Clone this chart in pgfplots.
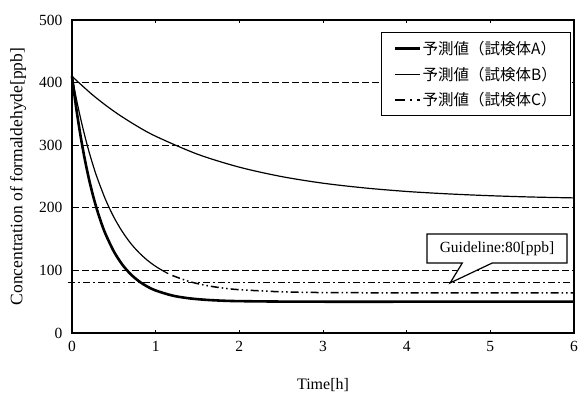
\documentclass[border=0pt]{standalone}
\usepackage{pgfplots}
\pgfplotsset{compat=1.18}
\usepackage{fontspec}
\setmainfont{Liberation Serif}
\newfontfamily\cjk{Noto Sans CJK JP}
\usetikzlibrary{shapes.callouts}
\begin{document}
\begin{tikzpicture}
\path[use as bounding box] (0pt,0pt) rectangle (580pt,398pt);
\begin{axis}[
  at={(72pt,65pt)}, anchor=south west,
  scale only axis, width=502pt, height=313pt,
  xmin=0, xmax=6, ymin=0, ymax=500,
  xtick={0,1,2,3,4,5,6}, ytick={0,100,200,300,400,500},
  axis line style={line width=1.6pt},
  tick align=inside, major tick length=3pt,
  tick style={black, line width=0.6pt},
  ymajorgrids=true,
  ytick style={draw=none},
  major grid style={black, line width=0.9pt, dash pattern=on 7pt off 3pt},
  /pgf/number format/assume math mode=true,
  tick label style={font=\fontsize{15.5}{16}\selectfont},
  yticklabel style={xshift=-6pt},
  xticklabel style={yshift=-5pt},
  xlabel={Time[h]}, ylabel={Concentration of formaldehyde[ppb]},
  every axis x label/.style={at={(axis description cs:0.5,-0.166)},anchor=center,font=\fontsize{16}{18}\selectfont},
  every axis y label/.style={at={(axis description cs:-0.1076,0.5)},rotate=90,anchor=center,font=\fontsize{17.5}{19}\selectfont},
  clip=false,
  legend cell align=left,
  legend style={at={(0.994,0.962)}, anchor=north east, draw=black, line width=1.2pt,
    font=\cjk\fontsize{15.5}{17}\selectfont, row sep=8pt, inner xsep=12pt, inner ysep=7pt,
    nodes={inner sep=1.5pt}},
  legend image code/.code={\draw[#1] (0pt,0pt) -- (25pt,0pt);},
]
% guideline 80 ppb
\addplot[forget plot, black, line width=1.0pt, dash pattern=on 7pt off 3pt on 2pt off 3pt]
  coordinates {(-0.05,80) (6,80)};
% Specimen A
\addplot[black, line width=2.6pt, smooth] coordinates {
(0,410) (0.05,359.9) (0.1,316.7) (0.15,279.5) (0.2,247.6) (0.25,220.1) (0.3,196.4)
(0.35,176.0) (0.4,158.4) (0.5,130.3) (0.6,109.5) (0.7,94.1) (0.8,82.7) (0.9,74.2)
(1.0,67.9) (1.2,59.8) (1.4,55.4) (1.6,53.0) (1.8,51.6) (2.0,50.9) (2.5,50.2) (3,50) (4,50) (5,50) (6,50)};
\addlegendentry{予測値（試検体A）}
% Specimen B
\addplot[black, line width=1.2pt, smooth] coordinates {
(0,410) (0.25,379.9) (0.5,354.3) (0.75,332.7) (1.0,314.3) (1.5,285.6) (2.0,264.9)
(2.5,250.0) (3.0,239.3) (3.5,231.7) (4.0,226.1) (4.5,222.2) (5.0,219.3) (5.5,217.2) (6.0,215.8)};
\addlegendentry{予測値（試検体B）}
\addlegendimage{black, line width=1.2pt, dash pattern=on 10pt off 5pt on 2pt off 5pt}
\addlegendentry{予測値（試検体C）}
% Specimen C
\addplot[forget plot, black, line width=1.2pt, smooth] coordinates {
(0,410) (0.05,375.5) (0.1,344.5) (0.15,316.5) (0.2,291.3) (0.25,268.7) (0.3,248.3)
(0.4,213.4) (0.5,185.1) (0.6,162.2) (0.7,143.5) (0.8,128.5) (0.9,116.3) (1.0,106.4)
(1.1,98.4) (1.15,94.9)};
\addplot[forget plot, black, line width=1.5pt, smooth,
  dash pattern=on 8pt off 3pt on 1.5pt off 3pt on 1.5pt off 3pt] coordinates {
(1.2,91.8) (1.4,82.3) (1.6,76.0) (1.8,71.9) (2.0,69.2) (2.5,65.8) (3,64.6) (4,64.1) (5,64) (6,64)};
% callout
\node[rectangle callout, draw=black, fill=white, line width=1.2pt,
  minimum width=140pt, minimum height=29pt, inner sep=2pt,
  callout absolute pointer={(axis cs:4.52,80)}, callout pointer width=30pt,
  font=\fontsize{15.5}{17}\selectfont]
  at (axis cs:5.08,135) {Guideline:80[ppb]};
\end{axis}
\end{tikzpicture}
\end{document}
